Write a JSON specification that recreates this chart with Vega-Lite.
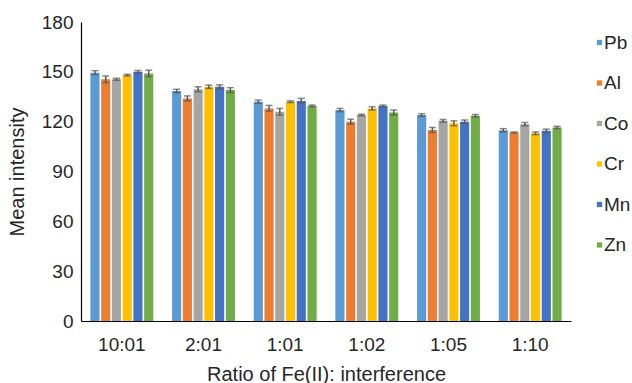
{
  "$schema": "https://vega.github.io/schema/vega-lite/v6.json",
  "width": 490,
  "height": 299,
  "autosize": "none",
  "padding": {"left": 81, "top": 22, "right": 61, "bottom": 62},
  "background": "white",
  "config": {
    "font": "Liberation Sans",
    "view": {"stroke": null},
    "axis": {"labelColor": "#262626", "titleColor": "#262626", "labelFont": "Liberation Sans", "titleFont": "Liberation Sans", "titleFontWeight": "normal", "domainColor": "#000000", "domainWidth": 1.2, "grid": false, "ticks": false}
  },
  "data": {
    "values": [
      {"ratio": "10:01", "metal": "Pb", "v": 149.5, "lo": 148.3, "hi": 150.7},
      {"ratio": "10:01", "metal": "Al", "v": 145.5, "lo": 143.5, "hi": 147.5},
      {"ratio": "10:01", "metal": "Co", "v": 145.5, "lo": 144.9, "hi": 146.1},
      {"ratio": "10:01", "metal": "Cr", "v": 148, "lo": 147.5, "hi": 148.5},
      {"ratio": "10:01", "metal": "Mn", "v": 150, "lo": 149.2, "hi": 150.8},
      {"ratio": "10:01", "metal": "Zn", "v": 149, "lo": 147, "hi": 151},
      {"ratio": "2:01", "metal": "Pb", "v": 138.5, "lo": 137.5, "hi": 139.5},
      {"ratio": "2:01", "metal": "Al", "v": 134, "lo": 132.5, "hi": 135.5},
      {"ratio": "2:01", "metal": "Co", "v": 139.5, "lo": 138, "hi": 141},
      {"ratio": "2:01", "metal": "Cr", "v": 141, "lo": 140, "hi": 142},
      {"ratio": "2:01", "metal": "Mn", "v": 141, "lo": 139.8, "hi": 142.2},
      {"ratio": "2:01", "metal": "Zn", "v": 139, "lo": 137.5, "hi": 140.5},
      {"ratio": "1:01", "metal": "Pb", "v": 132, "lo": 131, "hi": 133},
      {"ratio": "1:01", "metal": "Al", "v": 128, "lo": 126.2, "hi": 129.8},
      {"ratio": "1:01", "metal": "Co", "v": 126, "lo": 124, "hi": 128},
      {"ratio": "1:01", "metal": "Cr", "v": 132, "lo": 131.5, "hi": 132.5},
      {"ratio": "1:01", "metal": "Mn", "v": 132.5, "lo": 131, "hi": 134},
      {"ratio": "1:01", "metal": "Zn", "v": 129.5, "lo": 129, "hi": 130},
      {"ratio": "1:02", "metal": "Pb", "v": 127, "lo": 126, "hi": 128},
      {"ratio": "1:02", "metal": "Al", "v": 120, "lo": 118.5, "hi": 121.5},
      {"ratio": "1:02", "metal": "Co", "v": 124, "lo": 123.5, "hi": 124.5},
      {"ratio": "1:02", "metal": "Cr", "v": 128, "lo": 127, "hi": 129},
      {"ratio": "1:02", "metal": "Mn", "v": 129.5, "lo": 129, "hi": 130},
      {"ratio": "1:02", "metal": "Zn", "v": 125.5, "lo": 124, "hi": 127},
      {"ratio": "1:05", "metal": "Pb", "v": 124, "lo": 123.2, "hi": 124.8},
      {"ratio": "1:05", "metal": "Al", "v": 115, "lo": 113.5, "hi": 116.5},
      {"ratio": "1:05", "metal": "Co", "v": 120.5, "lo": 119.7, "hi": 121.3},
      {"ratio": "1:05", "metal": "Cr", "v": 119, "lo": 117.5, "hi": 120.5},
      {"ratio": "1:05", "metal": "Mn", "v": 120, "lo": 119, "hi": 121},
      {"ratio": "1:05", "metal": "Zn", "v": 123.5, "lo": 122.7, "hi": 124.3},
      {"ratio": "1:10", "metal": "Pb", "v": 114.8, "lo": 113.8, "hi": 115.8},
      {"ratio": "1:10", "metal": "Al", "v": 113.5, "lo": 113.2, "hi": 113.8},
      {"ratio": "1:10", "metal": "Co", "v": 118.5, "lo": 117.5, "hi": 119.5},
      {"ratio": "1:10", "metal": "Cr", "v": 113, "lo": 112.2, "hi": 113.8},
      {"ratio": "1:10", "metal": "Mn", "v": 114.5, "lo": 113.5, "hi": 115.5},
      {"ratio": "1:10", "metal": "Zn", "v": 116.5, "lo": 115.8, "hi": 117.2}
    ]
  },
  "encoding": {
    "x": {
      "field": "ratio", "type": "nominal",
      "sort": ["10:01", "2:01", "1:01", "1:02", "1:05", "1:10"],
      "scale": {"paddingInner": 0.23, "paddingOuter": 0.115},
      "axis": {"labelAngle": 0, "labelFontSize": 19, "labelPadding": 14, "title": "Ratio of Fe(II): interference", "titleFontSize": 20, "titlePadding": 10}
    },
    "xOffset": {
      "field": "metal", "type": "nominal",
      "sort": ["Pb", "Al", "Co", "Cr", "Mn", "Zn"],
      "scale": {"paddingInner": 0.15}
    }
  },
  "layer": [
    {
      "mark": {"type": "bar"},
      "encoding": {
        "y": {
          "field": "v", "type": "quantitative",
          "scale": {"domain": [0, 180]},
          "axis": {"values": [0, 30, 60, 90, 120, 150, 180], "labelFontSize": 19, "labelPadding": 8, "title": "Mean intensity", "titleFontSize": 20, "titlePadding": 14}
        },
        "color": {
          "field": "metal", "type": "nominal",
          "sort": ["Pb", "Al", "Co", "Cr", "Mn", "Zn"],
          "scale": {"domain": ["Pb", "Al", "Co", "Cr", "Mn", "Zn"], "range": ["#5B9BD5", "#ED7D31", "#A5A5A5", "#FFC000", "#4472C4", "#70AD47"]},
          "legend": {"title": null, "orient": "none", "legendX": 509, "legendY": 11, "symbolType": "square", "symbolSize": 28, "symbolStrokeWidth": 0, "labelFontSize": 19, "labelColor": "#262626", "labelOffset": -5, "rowPadding": 20.5}
        }
      }
    },
    {
      "mark": {"type": "rule", "color": "#595959", "strokeWidth": 1.5},
      "encoding": {
        "y": {"field": "lo", "type": "quantitative"},
        "y2": {"field": "hi"}
      }
    },
    {
      "mark": {"type": "tick", "color": "#595959", "thickness": 1.5, "size": 7},
      "encoding": {"y": {"field": "lo", "type": "quantitative"}}
    },
    {
      "mark": {"type": "tick", "color": "#595959", "thickness": 1.5, "size": 7},
      "encoding": {"y": {"field": "hi", "type": "quantitative"}}
    }
  ]
}
